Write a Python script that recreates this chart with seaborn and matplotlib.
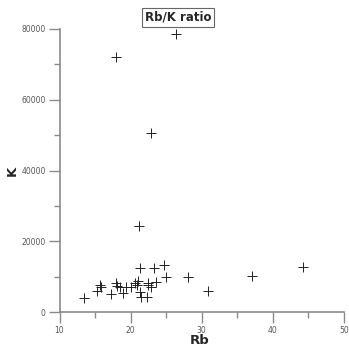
import matplotlib
matplotlib.use("Agg")
import matplotlib.pyplot as plt
import seaborn as sns
import pandas as pd
from matplotlib.ticker import MultipleLocator

rb = [26.35, 17.96, 22.88, 21.15, 44.2, 37.1, 28.1, 30.9, 24.96, 24.7,
      23.3, 21.3, 23.55, 22.8, 22.5, 22.3, 21.45, 21.3, 20.9, 20.6,
      19.4, 18.9, 18.5, 18.1, 17.9, 17.2, 15.8, 15.69, 15.22, 13.44,
      20.1, 21.1, 22.4]
k = [78500, 72000, 50500, 24200, 12700, 10180, 9800, 6020, 9980, 13290,
     12500, 12350, 8570, 7150, 8100, 4330, 4330, 5750, 7550, 8100,
     7000, 5300, 7000, 7350, 8300, 5000, 7100, 7630, 6020, 4040,
     7200, 8900, 7600]

df = pd.DataFrame({"Rb": rb, "K": k})

sns.set_style("white")
fig = plt.figure(figsize=(3.49, 3.48), dpi=100)
ax = fig.add_axes([0.1705, 0.1034, 0.8152, 0.8133])
sns.scatterplot(data=df, x="Rb", y="K", marker="+", s=45, color="#222222",
                linewidth=0.7, ax=ax, legend=False)

ax.set_xlim(10, 50)
ax.set_ylim(0, 80000)
ax.xaxis.set_major_locator(MultipleLocator(10))
ax.xaxis.set_minor_locator(MultipleLocator(5))
ax.yaxis.set_major_locator(MultipleLocator(20000))
ax.yaxis.set_minor_locator(MultipleLocator(10000))
for s in ["top", "right"]:
    ax.spines[s].set_visible(False)
for s in ["left", "bottom"]:
    ax.spines[s].set_color("#8a8a8a")
    ax.spines[s].set_linewidth(1.2)
ax.tick_params(which="major", direction="out", length=8, width=1, color="#8a8a8a",
               labelsize=5.5, labelcolor="#555555", left=True, bottom=True, pad=2)
ax.tick_params(which="minor", direction="out", length=4, width=1, color="#8a8a8a",
               left=True, bottom=True)
ax.set_xlabel("Rb", fontsize=9.5, fontweight="bold")
ax.set_ylabel("K", fontsize=9.5, fontweight="bold")
ax.xaxis.set_label_coords(0.494, -0.102)
ax.yaxis.set_label_coords(-0.167, 0.5)
ax.xaxis.label.set_va("center")
ax.yaxis.label.set_va("center")
fig.text(0.51, 0.951, "Rb/K ratio", ha="center", va="center", fontsize=8.5,
         fontweight="bold",
         bbox=dict(boxstyle="square,pad=0.25", facecolor="white", edgecolor="#666666", linewidth=0.8))

fig.savefig("out.png", dpi=100)
